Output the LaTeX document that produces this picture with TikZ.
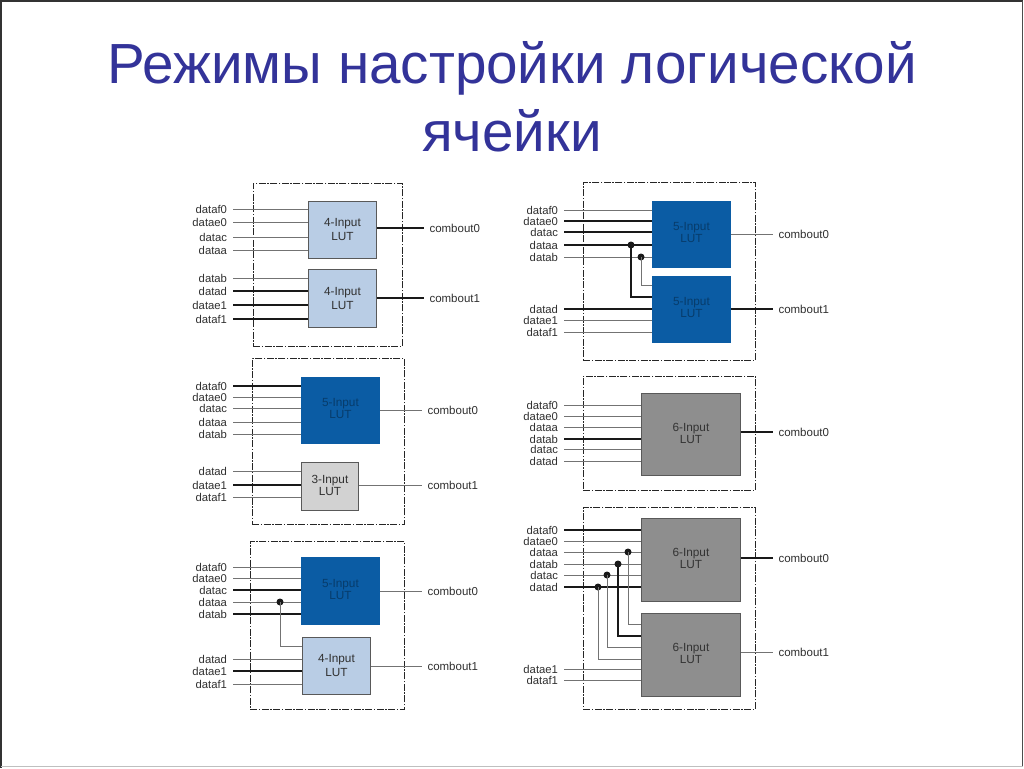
\documentclass[tikz,border=0pt]{standalone}
\usepackage{fontspec}
\setmainfont{Liberation Sans}
\definecolor{titleblue}{HTML}{333399}
\definecolor{lutlight}{HTML}{B9CDE5}
\definecolor{lutblue}{HTML}{0B5CA4}
\definecolor{lutgray}{HTML}{8E8E8E}
\definecolor{lutpale}{HTML}{D2D2D2}
\definecolor{labelgray}{HTML}{303030}
\tikzset{
  framebox/.style={draw=black!85,line width=.9pt,dash pattern=on 7pt off 1.5pt on 1.5pt off 1.5pt},
  lutbase/.style={anchor=north west,inner sep=0pt,align=center,font=\fontsize{11.8}{14}\selectfont,draw=black!65,line width=.9pt},
  lutA/.style={lutbase,fill=lutlight,text=labelgray},
  lutB/.style={lutbase,fill=lutblue,draw=lutblue,text=lutblue!65!black},
  lutC/.style={lutbase,fill=lutgray,text=black!80},
  lutD/.style={lutbase,fill=lutpale,text=labelgray},
  inlab/.style={anchor=east,inner sep=0pt,outer sep=0pt,font=\fontsize{11.3}{13}\selectfont,text=labelgray},
  outlab/.style={anchor=west,inner sep=0pt,outer sep=0pt,font=\fontsize{11.5}{13}\selectfont,text=labelgray},
  wl/.style={draw=black!55,line width=1pt},
  wd/.style={draw=black!90,line width=1.2pt},
  junction/.style={circle,fill=black!90,inner sep=0pt,minimum size=7pt},
}
% \lutbox{name}{style}{x1}{y1}{x2}{y2}{text}
\newcommand{\lutbox}[7]{%
  \pgfmathsetmacro{\lw}{#5-#3}\pgfmathsetmacro{\lh}{#6-#4}%
  \node[#2,minimum width=\lw pt,minimum height=\lh pt,text width=\lw pt] (#1) at (#3,#4) {#7};}
% tighter two-line label, set a little above the middle of the box
\newcommand{\tightlut}[1]{#1\\[-2pt]LUT\par\vspace{3pt}}
% \inw{node}{lut}{wire style}{label end x}{y}{text}
\newcommand{\inw}[6]{%
  \node[inlab] (#1t) at (#4,#5) {#6};
  \coordinate (#1) at (#4+6,#5);
  \draw[#3] (#1) -- (#1 -| #2.west);}
% \outw{node}{lut}{wire style}{end x}{y}{text}
\newcommand{\outw}[6]{%
  \coordinate (#1) at (#4,#5);
  \node[outlab] (#1t) at (#4+5.5,#5) {#6};
  \draw[#3] (#1 -| #2.east) -- (#1);}
\begin{document}
\begin{tikzpicture}[x=1pt,y=-1pt]
\useasboundingbox (0,0) rectangle (1024,768);
\fill[white] (0,0) rectangle (1024,768);
\draw[black!80,line width=1.6pt] (0.8,767.5) -- (0.8,0.8) -- (1023,0.8);
\draw[black!70,line width=.9pt] (1022.5,0.8) -- (1022.5,766);
\draw[black!25,line width=.9pt] (0.8,766) -- (1022.5,766);

\node[anchor=center,align=center,text=titleblue,font=\fontsize{56.6}{68}\selectfont,inner sep=0pt] (title) at (512,97) {Режимы настройки логической\\ячейки};

% Block 1
\node[framebox,anchor=north west,inner sep=0pt,minimum width=149pt,minimum height=163pt] (f1) at (253,183) {};
\lutbox{a1}{lutA}{308}{201}{376}{258}{4-Input\\LUT}
\lutbox{a2}{lutA}{308}{269}{376}{327}{4-Input\\LUT}
\inw{ai1}{a1}{wl}{227}{209}{dataf0}
\inw{ai2}{a1}{wl}{227}{222}{datae0}
\inw{ai3}{a1}{wl}{227}{237}{datac}
\inw{ai4}{a1}{wl}{227}{250}{dataa}
\inw{ai5}{a2}{wl}{227}{278}{datab}
\inw{ai6}{a2}{wd}{227}{291}{datad}
\inw{ai7}{a2}{wd}{227}{305}{datae1}
\inw{ai8}{a2}{wd}{227}{319}{dataf1}
\outw{ao1}{a1}{wd}{424}{228}{combout0}
\outw{ao2}{a2}{wd}{424}{298}{combout1}

% Block 2
\node[framebox,anchor=north west,inner sep=0pt,minimum width=152pt,minimum height=166pt] (f2) at (252,358) {};
\lutbox{b1}{lutB}{301}{377}{379}{443}{\tightlut{5-Input}}
\lutbox{b2}{lutD}{301}{462}{358}{510}{\tightlut{3-Input}}
\inw{bi1}{b1}{wd}{227}{386}{dataf0}
\inw{bi2}{b1}{wl}{227}{397}{datae0}
\inw{bi3}{b1}{wl}{227}{408}{datac}
\inw{bi4}{b1}{wl}{227}{422}{dataa}
\inw{bi5}{b1}{wl}{227}{434}{datab}
\inw{bi6}{b2}{wl}{227}{471}{datad}
\inw{bi7}{b2}{wd}{227}{485}{datae1}
\inw{bi8}{b2}{wl}{227}{497}{dataf1}
\outw{bo1}{b1}{wl}{422}{410}{combout0}
\outw{bo2}{b2}{wl}{422}{485}{combout1}

% Block 3
\node[framebox,anchor=north west,inner sep=0pt,minimum width=154pt,minimum height=168pt] (f3) at (250,541) {};
\lutbox{c1}{lutB}{301}{557}{379}{624}{\tightlut{5-Input}}
\lutbox{c2}{lutA}{302}{637}{370}{694}{4-Input\\LUT}
\inw{ci1}{c1}{wl}{227}{567}{dataf0}
\inw{ci2}{c1}{wl}{227}{578}{datae0}
\inw{ci3}{c1}{wd}{227}{590}{datac}
\inw{ci4}{c1}{wl}{227}{602}{dataa}
\inw{ci5}{c1}{wd}{227}{614}{datab}
\inw{ci6}{c2}{wl}{227}{659}{datad}
\inw{ci7}{c2}{wd}{227}{671}{datae1}
\inw{ci8}{c2}{wl}{227}{684}{dataf1}
\outw{co1}{c1}{wl}{422}{591}{combout0}
\outw{co2}{c2}{wl}{422}{666}{combout1}
\node[junction] (cj) at (280,602) {};
\coordinate (cb) at (302,646);
\draw[wl] (cj.center) |- (cb);

% Block 4
\node[framebox,anchor=north west,inner sep=0pt,minimum width=172pt,minimum height=178pt] (f4) at (583,182) {};
\lutbox{d1}{lutB}{652}{201}{730}{267}{\tightlut{5-Input}}
\lutbox{d2}{lutB}{652}{276}{730}{342}{\tightlut{5-Input}}
\inw{di1}{d1}{wl}{558}{210}{dataf0}
\inw{di2}{d1}{wd}{558}{221}{datae0}
\inw{di3}{d1}{wd}{558}{232}{datac}
\inw{di4}{d1}{wd}{558}{245}{dataa}
\inw{di5}{d1}{wl}{558}{257}{datab}
\inw{di6}{d2}{wd}{558}{309}{datad}
\inw{di7}{d2}{wl}{558}{320}{datae1}
\inw{di8}{d2}{wl}{558}{332}{dataf1}
\outw{do1}{d1}{wl}{773}{234}{combout0}
\outw{do2}{d2}{wd}{773}{309}{combout1}
\node[junction] (dj1) at (631,245) {};
\node[junction] (dj2) at (641,257) {};
\coordinate (db1) at (652,297);
\coordinate (db2) at (652,285);
\draw[wd] (dj1.center) |- (db1);
\draw[wl] (dj2.center) |- (db2);

% Block 5
\node[framebox,anchor=north west,inner sep=0pt,minimum width=172pt,minimum height=114pt] (f5) at (583,376) {};
\lutbox{e1}{lutC}{641}{393}{740}{475}{\tightlut{6-Input}}
\inw{ei1}{e1}{wl}{558}{405}{dataf0}
\inw{ei2}{e1}{wl}{558}{416}{datae0}
\inw{ei3}{e1}{wl}{558}{427}{dataa}
\inw{ei4}{e1}{wd}{558}{439}{datab}
\inw{ei5}{e1}{wl}{558}{449}{datac}
\inw{ei6}{e1}{wl}{558}{461}{datad}
\outw{eo1}{e1}{wd}{773}{432}{combout0}

% Block 6
\node[framebox,anchor=north west,inner sep=0pt,minimum width=172pt,minimum height=202pt] (f6) at (583,507) {};
\lutbox{g1}{lutC}{641}{518}{740}{601}{\tightlut{6-Input}}
\lutbox{g2}{lutC}{641}{613}{740}{696}{\tightlut{6-Input}}
\inw{gi1}{g1}{wd}{558}{530}{dataf0}
\inw{gi2}{g1}{wl}{558}{541}{datae0}
\inw{gi3}{g1}{wl}{558}{552}{dataa}
\inw{gi4}{g1}{wl}{558}{564}{datab}
\inw{gi5}{g1}{wl}{558}{575}{datac}
\inw{gi6}{g1}{wd}{558}{587}{datad}
\inw{gi7}{g2}{wl}{558}{669}{datae1}
\inw{gi8}{g2}{wl}{558}{680}{dataf1}
\outw{go1}{g1}{wd}{773}{558}{combout0}
\outw{go2}{g2}{wl}{773}{652}{combout1}
\node[junction] (gj1) at (628,552) {};
\node[junction] (gj2) at (618,564) {};
\node[junction] (gj3) at (607,575) {};
\node[junction] (gj4) at (598,587) {};
\coordinate (gb1) at (641,624);
\coordinate (gb2) at (641,636);
\coordinate (gb3) at (641,647);
\coordinate (gb4) at (641,659);
\draw[wl] (gj1.center) |- (gb1);
\draw[wd] (gj2.center) |- (gb2);
\draw[wl] (gj3.center) |- (gb3);
\draw[wl] (gj4.center) |- (gb4);
\end{tikzpicture}
\end{document}
